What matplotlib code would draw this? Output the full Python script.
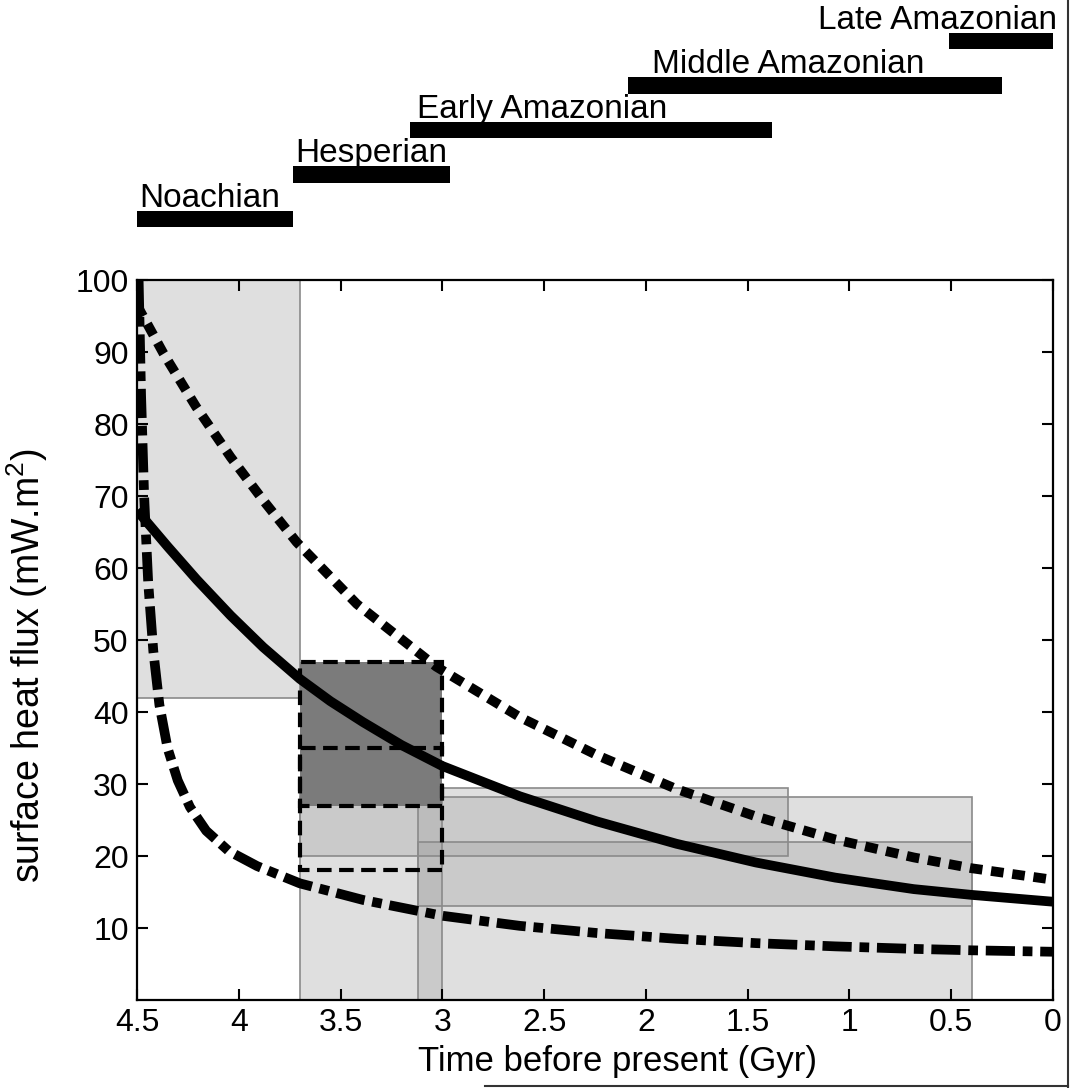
import matplotlib
matplotlib.use('Agg')
import matplotlib.pyplot as plt
from matplotlib.patches import Rectangle
from matplotlib.lines import Line2D

plt.rcParams['font.family'] = ['Liberation Sans', 'DejaVu Sans']
plt.rcParams['mathtext.default'] = 'regular'

# ---------------- data ----------------
epochs = ['Noachian', 'Hesperian', 'Early Amazonian', 'Middle Amazonian', 'Late Amazonian']
epoch_start = [4.5, 3.735, 3.16, 2.09, 0.51]
epoch_end = [3.735, 2.96, 1.38, 0.25, 0.0]

solid_t = [4.5, 4.35, 4.207, 4.04, 3.88, 3.70, 3.55, 3.39, 3.2, 3.0, 2.62, 2.24, 1.85, 1.46, 1.07, 0.684, 0.40, 0.0]
solid_q = [68, 63.0, 58.4, 53.4, 49.0, 44.6, 41.5, 38.6, 35.4, 32.5, 28.3, 24.8, 21.7, 19.1, 17.0, 15.4, 14.6, 13.65]

dotted_t = [4.5, 4.37, 4.21, 4.04, 3.88, 3.716, 3.42, 3.03, 2.62, 2.24, 1.85, 1.46, 1.07, 0.684, 0.40, 0.0]
dotted_q = [96.5, 89.8, 82.4, 75.4, 69.4, 63.6, 55.0, 46.3, 39.3, 34.0, 29.3, 25.5, 22.3, 19.8, 18.3, 16.7]

dashdot_t = [4.492, 4.48, 4.465, 4.445, 4.42, 4.39, 4.35, 4.30, 4.24, 4.16, 4.05, 3.91, 3.70,
             3.39, 3.0, 2.62, 2.24, 1.85, 1.46, 1.07, 0.684, 0.40, 0.0]
dashdot_q = [100, 84, 70, 58, 48.5, 41, 35, 30.5, 26.8, 23.5, 20.7, 18.6, 16.2,
             13.9, 11.7, 10.3, 9.3, 8.5, 7.9, 7.45, 7.1, 6.9, 6.7]

# light grey constraint boxes (time from, time to, flux from, flux to)
light_t0 = [4.5, 3.7, 3.7, 3.12, 3.12]
light_t1 = [3.7, 0.4, 1.3, 0.4, 3.0]
light_q0 = [42, 0, 20, 13, 0]
light_q1 = [100, 28.2, 29.4, 22, 30]

# dashed boxes
dash_t0 = [3.7, 3.7]
dash_t1 = [3.0, 3.0]
dash_q0 = [27, 18]
dash_q1 = [47, 35]
dash_filled = [True, False]

xticks = [4.5, 4, 3.5, 3, 2.5, 2, 1.5, 1, 0.5, 0]
xticklabels = ['4.5', '4', '3.5', '3', '2.5', '2', '1.5', '1', '0.5', '0']
yticks = [10, 20, 30, 40, 50, 60, 70, 80, 90, 100]

# ---------------- figure ----------------
W, H = 1072, 1088
fig = plt.figure(figsize=(W / 100, H / 100), dpi=100)

ax = fig.add_axes([137 / W, 88 / H, 916 / W, 720 / H])
ax.set_xlim(4.5, 0)
ax.set_ylim(0, 100)

for t0, t1, q0, q1 in zip(light_t0, light_t1, light_q0, light_q1):
    ax.add_patch(Rectangle((min(t0, t1), q0), abs(t1 - t0), q1 - q0,
                           facecolor='#a0a0a0', alpha=0.33, edgecolor='none', zorder=1))
    ax.add_patch(Rectangle((min(t0, t1), q0), abs(t1 - t0), q1 - q0,
                           facecolor='none', edgecolor='#8a8a8a', lw=1.2, zorder=1.1))

for t0, t1, q0, q1, filled in zip(dash_t0, dash_t1, dash_q0, dash_q1, dash_filled):
    if filled:
        ax.add_patch(Rectangle((min(t0, t1), q0), abs(t1 - t0), q1 - q0,
                               facecolor='#7b7b7b', edgecolor='none', zorder=2))
for t0, t1, q0, q1 in zip(dash_t0, dash_t1, dash_q0, dash_q1):
    ax.add_patch(Rectangle((min(t0, t1), q0), abs(t1 - t0), q1 - q0,
                           facecolor='none', edgecolor='black', lw=3,
                           linestyle=(0, (3.5, 1.8)), zorder=3))

ax.plot(solid_t, solid_q, color='black', lw=7, solid_capstyle='butt',
        solid_joinstyle='round', zorder=4)
ax.plot(dotted_t, dotted_q, color='black', lw=7, dashes=(1.3, 0.9),
        dash_capstyle='butt', dash_joinstyle='round', zorder=4)
ax.plot(dashdot_t, dashdot_q, color='black', lw=7, dashes=(3.0, 0.8, 1.0, 0.8),
        dash_capstyle='butt', dash_joinstyle='round', zorder=4)

ax.set_xticks(xticks)
ax.set_xticklabels(xticklabels)
ax.set_yticks(yticks)
ax.tick_params(direction='in', length=8, width=1.5, top=True, right=True,
               labelsize=23, pad=6)
for s in ax.spines.values():
    s.set_linewidth(1.6)

ax.set_xlabel('Time before present (Gyr)', fontsize=25)
ax.xaxis.set_label_coords(0.525, -0.063)
ax.set_ylabel('surface heat flux (mW.m$^2$)', fontsize=27)
ax.yaxis.set_label_coords(-0.095, 0.465)

# ---------------- epoch bars ----------------
axt = fig.add_axes([137 / W, (H - 241.25) / H, 916 / W, 222.5 / H])
axt.set_xlim(4.5, 0)
axt.set_ylim(-0.5, 4.5)
axt.axis('off')
bar_h = 0.36
axt.barh(range(len(epochs)), [s - e for s, e in zip(epoch_start, epoch_end)],
         left=epoch_end, height=bar_h, color='black', clip_on=False)
offsets_px = [2, 3, 7, 24, 0]
for i, name in enumerate(epochs):
    if i == len(epochs) - 1:
        axt.annotate(name, xy=(epoch_end[i], i + bar_h / 2), xytext=(3, 3),
                     textcoords='offset points', ha='right', va='baseline',
                     fontsize=24, annotation_clip=False)
    else:
        axt.annotate(name, xy=(epoch_start[i], i + bar_h / 2),
                     xytext=(offsets_px[i] * 0.72, 3),
                     textcoords='offset points', ha='left', va='baseline',
                     fontsize=24, annotation_clip=False)

# frame remnants at the edge of the original picture
fig.add_artist(Line2D([1068 / W, 1068 / W], [0, 1], color='#333333', lw=1.5))
fig.add_artist(Line2D([485 / W, 1068 / W], [2 / H, 2 / H], color='#333333', lw=1.5))

fig.savefig('out.png', dpi=100)
